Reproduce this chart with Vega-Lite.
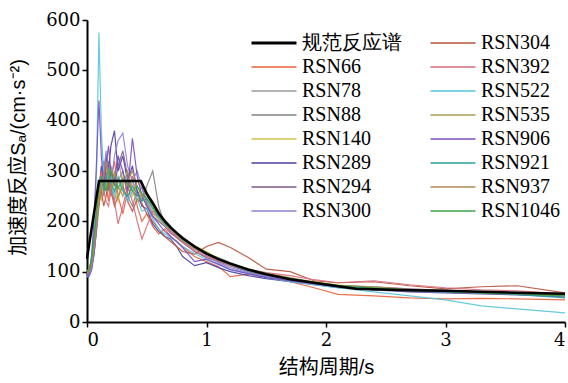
{
"$schema":"https://vega.github.io/schema/vega-lite/v6.json",
"autosize":"none",
"width":478,"height":302,
"padding":{"left":87,"top":20,"right":3,"bottom":61},
"background":"white",
"config":{"view":{"stroke":null},"axis":{"grid":false,"domainColor":"black","domainWidth":2,"tickColor":"black","tickWidth":1.5,"tickSize":5,"labelColor":"black","labelFont":"DejaVu Serif","labelFontSize":18,"titleFont":"Liberation Sans, Noto Sans CJK SC","titleFontSize":20,"titleFontWeight":"normal","titleColor":"black"}},
"data":{"values":[
{"s":"规范反应谱","T":0,"v":126},{"s":"规范反应谱","T":0.1,"v":280},{"s":"规范反应谱","T":0.45,"v":280},{"s":"规范反应谱","T":0.5,"v":255},{"s":"规范反应谱","T":0.55,"v":236},{"s":"规范反应谱","T":0.6,"v":216},{"s":"规范反应谱","T":0.65,"v":201},{"s":"规范反应谱","T":0.7,"v":188},{"s":"规范反应谱","T":0.75,"v":177},{"s":"规范反应谱","T":0.8,"v":167},{"s":"规范反应谱","T":0.9,"v":150},{"s":"规范反应谱","T":1.0,"v":136},{"s":"规范反应谱","T":1.1,"v":125},{"s":"规范反应谱","T":1.2,"v":116},{"s":"规范反应谱","T":1.35,"v":104},{"s":"规范反应谱","T":1.5,"v":95},{"s":"规范反应谱","T":1.7,"v":85},{"s":"规范反应谱","T":1.9,"v":78},{"s":"规范反应谱","T":2.1,"v":71},{"s":"规范反应谱","T":2.25,"v":66},{"s":"规范反应谱","T":2.7,"v":63},{"s":"规范反应谱","T":3.0,"v":62},{"s":"规范反应谱","T":3.3,"v":60},{"s":"规范反应谱","T":3.6,"v":58},{"s":"规范反应谱","T":4.0,"v":56},

{"s":"RSN66","T":0,"v":95},{"s":"RSN66","T":0.02,"v":100},{"s":"RSN66","T":0.04,"v":118},{"s":"RSN66","T":0.06,"v":150},{"s":"RSN66","T":0.08,"v":200},{"s":"RSN66","T":0.1,"v":235},{"s":"RSN66","T":0.12,"v":260},{"s":"RSN66","T":0.14,"v":300},{"s":"RSN66","T":0.16,"v":270},{"s":"RSN66","T":0.18,"v":240},{"s":"RSN66","T":0.2,"v":285},{"s":"RSN66","T":0.23,"v":320},{"s":"RSN66","T":0.26,"v":250},{"s":"RSN66","T":0.3,"v":215},{"s":"RSN66","T":0.34,"v":260},{"s":"RSN66","T":0.38,"v":290},{"s":"RSN66","T":0.42,"v":230},{"s":"RSN66","T":0.46,"v":200},{"s":"RSN66","T":0.5,"v":215},{"s":"RSN66","T":0.55,"v":190},{"s":"RSN66","T":0.6,"v":175},{"s":"RSN66","T":0.65,"v":185},{"s":"RSN66","T":0.7,"v":170},{"s":"RSN66","T":0.75,"v":160},{"s":"RSN66","T":0.8,"v":150},{"s":"RSN66","T":0.9,"v":130},{"s":"RSN66","T":1.0,"v":120},{"s":"RSN66","T":1.1,"v":110},{"s":"RSN66","T":1.2,"v":90},{"s":"RSN66","T":1.35,"v":95},{"s":"RSN66","T":1.5,"v":88},{"s":"RSN66","T":1.7,"v":80},{"s":"RSN66","T":1.9,"v":68},{"s":"RSN66","T":2.1,"v":55},{"s":"RSN66","T":2.4,"v":52},{"s":"RSN66","T":2.7,"v":48},{"s":"RSN66","T":3.0,"v":46},{"s":"RSN66","T":3.3,"v":47},{"s":"RSN66","T":3.6,"v":46},{"s":"RSN66","T":4.0,"v":44},

{"s":"RSN78","T":0,"v":100},{"s":"RSN78","T":0.02,"v":104},{"s":"RSN78","T":0.04,"v":125},{"s":"RSN78","T":0.06,"v":165},{"s":"RSN78","T":0.08,"v":230},{"s":"RSN78","T":0.1,"v":270},{"s":"RSN78","T":0.12,"v":300},{"s":"RSN78","T":0.14,"v":260},{"s":"RSN78","T":0.16,"v":310},{"s":"RSN78","T":0.18,"v":280},{"s":"RSN78","T":0.2,"v":250},{"s":"RSN78","T":0.23,"v":290},{"s":"RSN78","T":0.26,"v":330},{"s":"RSN78","T":0.3,"v":270},{"s":"RSN78","T":0.34,"v":240},{"s":"RSN78","T":0.38,"v":280},{"s":"RSN78","T":0.42,"v":260},{"s":"RSN78","T":0.46,"v":245},{"s":"RSN78","T":0.5,"v":250},{"s":"RSN78","T":0.55,"v":230},{"s":"RSN78","T":0.6,"v":205},{"s":"RSN78","T":0.65,"v":200},{"s":"RSN78","T":0.7,"v":190},{"s":"RSN78","T":0.75,"v":175},{"s":"RSN78","T":0.8,"v":160},{"s":"RSN78","T":0.9,"v":148},{"s":"RSN78","T":1.0,"v":135},{"s":"RSN78","T":1.1,"v":128},{"s":"RSN78","T":1.2,"v":118},{"s":"RSN78","T":1.35,"v":105},{"s":"RSN78","T":1.5,"v":96},{"s":"RSN78","T":1.7,"v":87},{"s":"RSN78","T":1.9,"v":78},{"s":"RSN78","T":2.1,"v":72},{"s":"RSN78","T":2.4,"v":66},{"s":"RSN78","T":2.7,"v":62},{"s":"RSN78","T":3.0,"v":60},{"s":"RSN78","T":3.3,"v":58},{"s":"RSN78","T":3.6,"v":55},{"s":"RSN78","T":4.0,"v":52},

{"s":"RSN88","T":0,"v":92},{"s":"RSN88","T":0.02,"v":98},{"s":"RSN88","T":0.04,"v":112},{"s":"RSN88","T":0.06,"v":140},{"s":"RSN88","T":0.08,"v":180},{"s":"RSN88","T":0.1,"v":230},{"s":"RSN88","T":0.12,"v":270},{"s":"RSN88","T":0.14,"v":250},{"s":"RSN88","T":0.16,"v":290},{"s":"RSN88","T":0.18,"v":320},{"s":"RSN88","T":0.2,"v":270},{"s":"RSN88","T":0.23,"v":240},{"s":"RSN88","T":0.26,"v":280},{"s":"RSN88","T":0.3,"v":300},{"s":"RSN88","T":0.34,"v":250},{"s":"RSN88","T":0.38,"v":230},{"s":"RSN88","T":0.42,"v":260},{"s":"RSN88","T":0.46,"v":240},{"s":"RSN88","T":0.5,"v":270},{"s":"RSN88","T":0.55,"v":300},{"s":"RSN88","T":0.6,"v":230},{"s":"RSN88","T":0.65,"v":195},{"s":"RSN88","T":0.7,"v":180},{"s":"RSN88","T":0.75,"v":170},{"s":"RSN88","T":0.8,"v":162},{"s":"RSN88","T":0.9,"v":145},{"s":"RSN88","T":1.0,"v":138},{"s":"RSN88","T":1.1,"v":126},{"s":"RSN88","T":1.2,"v":112},{"s":"RSN88","T":1.35,"v":102},{"s":"RSN88","T":1.5,"v":92},{"s":"RSN88","T":1.7,"v":84},{"s":"RSN88","T":1.9,"v":76},{"s":"RSN88","T":2.1,"v":70},{"s":"RSN88","T":2.4,"v":64},{"s":"RSN88","T":2.7,"v":62},{"s":"RSN88","T":3.0,"v":61},{"s":"RSN88","T":3.3,"v":59},{"s":"RSN88","T":3.6,"v":56},{"s":"RSN88","T":4.0,"v":50},

{"s":"RSN140","T":0,"v":98},{"s":"RSN140","T":0.02,"v":105},{"s":"RSN140","T":0.04,"v":130},{"s":"RSN140","T":0.06,"v":180},{"s":"RSN140","T":0.08,"v":220},{"s":"RSN140","T":0.1,"v":260},{"s":"RSN140","T":0.12,"v":240},{"s":"RSN140","T":0.14,"v":290},{"s":"RSN140","T":0.16,"v":310},{"s":"RSN140","T":0.18,"v":270},{"s":"RSN140","T":0.2,"v":300},{"s":"RSN140","T":0.23,"v":260},{"s":"RSN140","T":0.26,"v":240},{"s":"RSN140","T":0.3,"v":290},{"s":"RSN140","T":0.34,"v":270},{"s":"RSN140","T":0.38,"v":250},{"s":"RSN140","T":0.42,"v":280},{"s":"RSN140","T":0.46,"v":265},{"s":"RSN140","T":0.5,"v":240},{"s":"RSN140","T":0.55,"v":220},{"s":"RSN140","T":0.6,"v":215},{"s":"RSN140","T":0.65,"v":195},{"s":"RSN140","T":0.7,"v":185},{"s":"RSN140","T":0.75,"v":172},{"s":"RSN140","T":0.8,"v":165},{"s":"RSN140","T":0.9,"v":152},{"s":"RSN140","T":1.0,"v":140},{"s":"RSN140","T":1.1,"v":126},{"s":"RSN140","T":1.2,"v":114},{"s":"RSN140","T":1.35,"v":104},{"s":"RSN140","T":1.5,"v":95},{"s":"RSN140","T":1.7,"v":86},{"s":"RSN140","T":1.9,"v":80},{"s":"RSN140","T":2.1,"v":74},{"s":"RSN140","T":2.4,"v":68},{"s":"RSN140","T":2.7,"v":64},{"s":"RSN140","T":3.0,"v":62},{"s":"RSN140","T":3.3,"v":60},{"s":"RSN140","T":3.6,"v":57},{"s":"RSN140","T":4.0,"v":53},

{"s":"RSN289","T":0,"v":88},{"s":"RSN289","T":0.02,"v":92},{"s":"RSN289","T":0.04,"v":105},{"s":"RSN289","T":0.06,"v":135},{"s":"RSN289","T":0.08,"v":190},{"s":"RSN289","T":0.1,"v":260},{"s":"RSN289","T":0.12,"v":310},{"s":"RSN289","T":0.14,"v":280},{"s":"RSN289","T":0.16,"v":330},{"s":"RSN289","T":0.18,"v":300},{"s":"RSN289","T":0.2,"v":350},{"s":"RSN289","T":0.23,"v":380},{"s":"RSN289","T":0.26,"v":300},{"s":"RSN289","T":0.3,"v":330},{"s":"RSN289","T":0.34,"v":280},{"s":"RSN289","T":0.38,"v":310},{"s":"RSN289","T":0.42,"v":260},{"s":"RSN289","T":0.46,"v":230},{"s":"RSN289","T":0.5,"v":225},{"s":"RSN289","T":0.55,"v":195},{"s":"RSN289","T":0.6,"v":180},{"s":"RSN289","T":0.65,"v":170},{"s":"RSN289","T":0.7,"v":165},{"s":"RSN289","T":0.75,"v":150},{"s":"RSN289","T":0.8,"v":130},{"s":"RSN289","T":0.9,"v":112},{"s":"RSN289","T":1.0,"v":118},{"s":"RSN289","T":1.1,"v":108},{"s":"RSN289","T":1.2,"v":100},{"s":"RSN289","T":1.35,"v":92},{"s":"RSN289","T":1.5,"v":86},{"s":"RSN289","T":1.7,"v":80},{"s":"RSN289","T":1.9,"v":74},{"s":"RSN289","T":2.1,"v":68},{"s":"RSN289","T":2.4,"v":64},{"s":"RSN289","T":2.7,"v":60},{"s":"RSN289","T":3.0,"v":58},{"s":"RSN289","T":3.3,"v":56},{"s":"RSN289","T":3.6,"v":54},{"s":"RSN289","T":4.0,"v":50},

{"s":"RSN294","T":0,"v":96},{"s":"RSN294","T":0.02,"v":100},{"s":"RSN294","T":0.04,"v":115},{"s":"RSN294","T":0.06,"v":150},{"s":"RSN294","T":0.08,"v":210},{"s":"RSN294","T":0.1,"v":250},{"s":"RSN294","T":0.12,"v":280},{"s":"RSN294","T":0.14,"v":320},{"s":"RSN294","T":0.16,"v":290},{"s":"RSN294","T":0.18,"v":260},{"s":"RSN294","T":0.2,"v":300},{"s":"RSN294","T":0.23,"v":270},{"s":"RSN294","T":0.26,"v":310},{"s":"RSN294","T":0.3,"v":340},{"s":"RSN294","T":0.34,"v":290},{"s":"RSN294","T":0.38,"v":260},{"s":"RSN294","T":0.42,"v":250},{"s":"RSN294","T":0.46,"v":270},{"s":"RSN294","T":0.5,"v":235},{"s":"RSN294","T":0.55,"v":210},{"s":"RSN294","T":0.6,"v":200},{"s":"RSN294","T":0.65,"v":190},{"s":"RSN294","T":0.7,"v":176},{"s":"RSN294","T":0.75,"v":168},{"s":"RSN294","T":0.8,"v":158},{"s":"RSN294","T":0.9,"v":140},{"s":"RSN294","T":1.0,"v":128},{"s":"RSN294","T":1.1,"v":120},{"s":"RSN294","T":1.2,"v":112},{"s":"RSN294","T":1.35,"v":100},{"s":"RSN294","T":1.5,"v":90},{"s":"RSN294","T":1.7,"v":82},{"s":"RSN294","T":1.9,"v":76},{"s":"RSN294","T":2.1,"v":72},{"s":"RSN294","T":2.4,"v":70},{"s":"RSN294","T":2.7,"v":66},{"s":"RSN294","T":3.0,"v":63},{"s":"RSN294","T":3.3,"v":60},{"s":"RSN294","T":3.6,"v":58},{"s":"RSN294","T":4.0,"v":55},

{"s":"RSN300","T":0,"v":90},{"s":"RSN300","T":0.02,"v":95},{"s":"RSN300","T":0.04,"v":110},{"s":"RSN300","T":0.06,"v":140},{"s":"RSN300","T":0.08,"v":185},{"s":"RSN300","T":0.1,"v":240},{"s":"RSN300","T":0.12,"v":275},{"s":"RSN300","T":0.14,"v":300},{"s":"RSN300","T":0.16,"v":340},{"s":"RSN300","T":0.18,"v":300},{"s":"RSN300","T":0.2,"v":270},{"s":"RSN300","T":0.23,"v":330},{"s":"RSN300","T":0.26,"v":360},{"s":"RSN300","T":0.3,"v":375},{"s":"RSN300","T":0.34,"v":310},{"s":"RSN300","T":0.38,"v":280},{"s":"RSN300","T":0.42,"v":300},{"s":"RSN300","T":0.46,"v":265},{"s":"RSN300","T":0.5,"v":240},{"s":"RSN300","T":0.55,"v":215},{"s":"RSN300","T":0.6,"v":210},{"s":"RSN300","T":0.65,"v":198},{"s":"RSN300","T":0.7,"v":182},{"s":"RSN300","T":0.75,"v":170},{"s":"RSN300","T":0.8,"v":160},{"s":"RSN300","T":0.9,"v":146},{"s":"RSN300","T":1.0,"v":132},{"s":"RSN300","T":1.1,"v":118},{"s":"RSN300","T":1.2,"v":108},{"s":"RSN300","T":1.35,"v":98},{"s":"RSN300","T":1.5,"v":90},{"s":"RSN300","T":1.7,"v":84},{"s":"RSN300","T":1.9,"v":77},{"s":"RSN300","T":2.1,"v":70},{"s":"RSN300","T":2.4,"v":65},{"s":"RSN300","T":2.7,"v":61},{"s":"RSN300","T":3.0,"v":59},{"s":"RSN300","T":3.3,"v":57},{"s":"RSN300","T":3.6,"v":55},{"s":"RSN300","T":4.0,"v":51},

{"s":"RSN304","T":0,"v":100},{"s":"RSN304","T":0.02,"v":104},{"s":"RSN304","T":0.04,"v":120},{"s":"RSN304","T":0.06,"v":155},{"s":"RSN304","T":0.08,"v":200},{"s":"RSN304","T":0.1,"v":240},{"s":"RSN304","T":0.12,"v":260},{"s":"RSN304","T":0.14,"v":230},{"s":"RSN304","T":0.16,"v":250},{"s":"RSN304","T":0.18,"v":280},{"s":"RSN304","T":0.2,"v":260},{"s":"RSN304","T":0.23,"v":230},{"s":"RSN304","T":0.26,"v":250},{"s":"RSN304","T":0.3,"v":270},{"s":"RSN304","T":0.34,"v":240},{"s":"RSN304","T":0.38,"v":220},{"s":"RSN304","T":0.42,"v":245},{"s":"RSN304","T":0.46,"v":235},{"s":"RSN304","T":0.5,"v":215},{"s":"RSN304","T":0.55,"v":200},{"s":"RSN304","T":0.6,"v":185},{"s":"RSN304","T":0.65,"v":170},{"s":"RSN304","T":0.7,"v":160},{"s":"RSN304","T":0.75,"v":150},{"s":"RSN304","T":0.8,"v":140},{"s":"RSN304","T":0.9,"v":135},{"s":"RSN304","T":1.0,"v":150},{"s":"RSN304","T":1.1,"v":158},{"s":"RSN304","T":1.2,"v":148},{"s":"RSN304","T":1.35,"v":128},{"s":"RSN304","T":1.5,"v":105},{"s":"RSN304","T":1.7,"v":100},{"s":"RSN304","T":1.9,"v":82},{"s":"RSN304","T":2.1,"v":78},{"s":"RSN304","T":2.4,"v":80},{"s":"RSN304","T":2.7,"v":72},{"s":"RSN304","T":3.0,"v":66},{"s":"RSN304","T":3.3,"v":70},{"s":"RSN304","T":3.6,"v":72},{"s":"RSN304","T":4.0,"v":58},

{"s":"RSN392","T":0,"v":94},{"s":"RSN392","T":0.02,"v":98},{"s":"RSN392","T":0.04,"v":118},{"s":"RSN392","T":0.06,"v":160},{"s":"RSN392","T":0.08,"v":215},{"s":"RSN392","T":0.1,"v":270},{"s":"RSN392","T":0.12,"v":300},{"s":"RSN392","T":0.14,"v":260},{"s":"RSN392","T":0.16,"v":240},{"s":"RSN392","T":0.18,"v":230},{"s":"RSN392","T":0.2,"v":260},{"s":"RSN392","T":0.23,"v":240},{"s":"RSN392","T":0.26,"v":195},{"s":"RSN392","T":0.3,"v":230},{"s":"RSN392","T":0.34,"v":270},{"s":"RSN392","T":0.38,"v":240},{"s":"RSN392","T":0.42,"v":200},{"s":"RSN392","T":0.46,"v":165},{"s":"RSN392","T":0.5,"v":190},{"s":"RSN392","T":0.55,"v":220},{"s":"RSN392","T":0.6,"v":210},{"s":"RSN392","T":0.65,"v":195},{"s":"RSN392","T":0.7,"v":180},{"s":"RSN392","T":0.75,"v":168},{"s":"RSN392","T":0.8,"v":158},{"s":"RSN392","T":0.9,"v":142},{"s":"RSN392","T":1.0,"v":130},{"s":"RSN392","T":1.1,"v":122},{"s":"RSN392","T":1.2,"v":112},{"s":"RSN392","T":1.35,"v":104},{"s":"RSN392","T":1.5,"v":98},{"s":"RSN392","T":1.7,"v":92},{"s":"RSN392","T":1.9,"v":84},{"s":"RSN392","T":2.1,"v":78},{"s":"RSN392","T":2.4,"v":82},{"s":"RSN392","T":2.7,"v":74},{"s":"RSN392","T":3.0,"v":68},{"s":"RSN392","T":3.3,"v":64},{"s":"RSN392","T":3.6,"v":62},{"s":"RSN392","T":4.0,"v":56},

{"s":"RSN522","T":0,"v":90},{"s":"RSN522","T":0.02,"v":100},{"s":"RSN522","T":0.04,"v":140},{"s":"RSN522","T":0.06,"v":200},{"s":"RSN522","T":0.08,"v":300},{"s":"RSN522","T":0.1,"v":575},{"s":"RSN522","T":0.12,"v":380},{"s":"RSN522","T":0.14,"v":290},{"s":"RSN522","T":0.16,"v":260},{"s":"RSN522","T":0.18,"v":300},{"s":"RSN522","T":0.2,"v":280},{"s":"RSN522","T":0.23,"v":250},{"s":"RSN522","T":0.26,"v":290},{"s":"RSN522","T":0.3,"v":265},{"s":"RSN522","T":0.34,"v":240},{"s":"RSN522","T":0.38,"v":260},{"s":"RSN522","T":0.42,"v":245},{"s":"RSN522","T":0.46,"v":220},{"s":"RSN522","T":0.5,"v":225},{"s":"RSN522","T":0.55,"v":205},{"s":"RSN522","T":0.6,"v":185},{"s":"RSN522","T":0.65,"v":175},{"s":"RSN522","T":0.7,"v":168},{"s":"RSN522","T":0.75,"v":160},{"s":"RSN522","T":0.8,"v":150},{"s":"RSN522","T":0.9,"v":136},{"s":"RSN522","T":1.0,"v":124},{"s":"RSN522","T":1.1,"v":114},{"s":"RSN522","T":1.2,"v":104},{"s":"RSN522","T":1.35,"v":96},{"s":"RSN522","T":1.5,"v":88},{"s":"RSN522","T":1.7,"v":80},{"s":"RSN522","T":1.9,"v":74},{"s":"RSN522","T":2.1,"v":68},{"s":"RSN522","T":2.4,"v":60},{"s":"RSN522","T":2.7,"v":52},{"s":"RSN522","T":3.0,"v":44},{"s":"RSN522","T":3.3,"v":32},{"s":"RSN522","T":3.6,"v":26},{"s":"RSN522","T":4.0,"v":18},

{"s":"RSN535","T":0,"v":102},{"s":"RSN535","T":0.02,"v":106},{"s":"RSN535","T":0.04,"v":125},{"s":"RSN535","T":0.06,"v":160},{"s":"RSN535","T":0.08,"v":205},{"s":"RSN535","T":0.1,"v":250},{"s":"RSN535","T":0.12,"v":275},{"s":"RSN535","T":0.14,"v":300},{"s":"RSN535","T":0.16,"v":260},{"s":"RSN535","T":0.18,"v":290},{"s":"RSN535","T":0.2,"v":310},{"s":"RSN535","T":0.23,"v":280},{"s":"RSN535","T":0.26,"v":250},{"s":"RSN535","T":0.3,"v":270},{"s":"RSN535","T":0.34,"v":300},{"s":"RSN535","T":0.38,"v":260},{"s":"RSN535","T":0.42,"v":240},{"s":"RSN535","T":0.46,"v":255},{"s":"RSN535","T":0.5,"v":230},{"s":"RSN535","T":0.55,"v":215},{"s":"RSN535","T":0.6,"v":205},{"s":"RSN535","T":0.65,"v":192},{"s":"RSN535","T":0.7,"v":185},{"s":"RSN535","T":0.75,"v":176},{"s":"RSN535","T":0.8,"v":164},{"s":"RSN535","T":0.9,"v":150},{"s":"RSN535","T":1.0,"v":138},{"s":"RSN535","T":1.1,"v":126},{"s":"RSN535","T":1.2,"v":116},{"s":"RSN535","T":1.35,"v":106},{"s":"RSN535","T":1.5,"v":97},{"s":"RSN535","T":1.7,"v":88},{"s":"RSN535","T":1.9,"v":80},{"s":"RSN535","T":2.1,"v":73},{"s":"RSN535","T":2.4,"v":67},{"s":"RSN535","T":2.7,"v":63},{"s":"RSN535","T":3.0,"v":61},{"s":"RSN535","T":3.3,"v":58},{"s":"RSN535","T":3.6,"v":56},{"s":"RSN535","T":4.0,"v":52},

{"s":"RSN906","T":0,"v":92},{"s":"RSN906","T":0.02,"v":98},{"s":"RSN906","T":0.04,"v":130},{"s":"RSN906","T":0.06,"v":210},{"s":"RSN906","T":0.08,"v":320},{"s":"RSN906","T":0.1,"v":440},{"s":"RSN906","T":0.12,"v":330},{"s":"RSN906","T":0.14,"v":270},{"s":"RSN906","T":0.16,"v":310},{"s":"RSN906","T":0.18,"v":350},{"s":"RSN906","T":0.2,"v":300},{"s":"RSN906","T":0.23,"v":280},{"s":"RSN906","T":0.26,"v":330},{"s":"RSN906","T":0.3,"v":300},{"s":"RSN906","T":0.34,"v":260},{"s":"RSN906","T":0.38,"v":365},{"s":"RSN906","T":0.42,"v":290},{"s":"RSN906","T":0.46,"v":250},{"s":"RSN906","T":0.5,"v":230},{"s":"RSN906","T":0.55,"v":210},{"s":"RSN906","T":0.6,"v":195},{"s":"RSN906","T":0.65,"v":180},{"s":"RSN906","T":0.7,"v":170},{"s":"RSN906","T":0.75,"v":160},{"s":"RSN906","T":0.8,"v":148},{"s":"RSN906","T":0.9,"v":120},{"s":"RSN906","T":1.0,"v":125},{"s":"RSN906","T":1.1,"v":115},{"s":"RSN906","T":1.2,"v":104},{"s":"RSN906","T":1.35,"v":96},{"s":"RSN906","T":1.5,"v":88},{"s":"RSN906","T":1.7,"v":82},{"s":"RSN906","T":1.9,"v":76},{"s":"RSN906","T":2.1,"v":70},{"s":"RSN906","T":2.4,"v":66},{"s":"RSN906","T":2.7,"v":62},{"s":"RSN906","T":3.0,"v":60},{"s":"RSN906","T":3.3,"v":58},{"s":"RSN906","T":3.6,"v":56},{"s":"RSN906","T":4.0,"v":54},

{"s":"RSN921","T":0,"v":98},{"s":"RSN921","T":0.02,"v":102},{"s":"RSN921","T":0.04,"v":120},{"s":"RSN921","T":0.06,"v":165},{"s":"RSN921","T":0.08,"v":225},{"s":"RSN921","T":0.1,"v":270},{"s":"RSN921","T":0.12,"v":290},{"s":"RSN921","T":0.14,"v":260},{"s":"RSN921","T":0.16,"v":285},{"s":"RSN921","T":0.18,"v":305},{"s":"RSN921","T":0.2,"v":275},{"s":"RSN921","T":0.23,"v":260},{"s":"RSN921","T":0.26,"v":285},{"s":"RSN921","T":0.3,"v":260},{"s":"RSN921","T":0.34,"v":250},{"s":"RSN921","T":0.38,"v":270},{"s":"RSN921","T":0.42,"v":255},{"s":"RSN921","T":0.46,"v":240},{"s":"RSN921","T":0.5,"v":245},{"s":"RSN921","T":0.55,"v":225},{"s":"RSN921","T":0.6,"v":210},{"s":"RSN921","T":0.65,"v":195},{"s":"RSN921","T":0.7,"v":185},{"s":"RSN921","T":0.75,"v":174},{"s":"RSN921","T":0.8,"v":164},{"s":"RSN921","T":0.9,"v":148},{"s":"RSN921","T":1.0,"v":136},{"s":"RSN921","T":1.1,"v":124},{"s":"RSN921","T":1.2,"v":114},{"s":"RSN921","T":1.35,"v":102},{"s":"RSN921","T":1.5,"v":94},{"s":"RSN921","T":1.7,"v":86},{"s":"RSN921","T":1.9,"v":78},{"s":"RSN921","T":2.1,"v":72},{"s":"RSN921","T":2.4,"v":66},{"s":"RSN921","T":2.7,"v":62},{"s":"RSN921","T":3.0,"v":60},{"s":"RSN921","T":3.3,"v":58},{"s":"RSN921","T":3.6,"v":55},{"s":"RSN921","T":4.0,"v":48},

{"s":"RSN937","T":0,"v":97},{"s":"RSN937","T":0.02,"v":100},{"s":"RSN937","T":0.04,"v":116},{"s":"RSN937","T":0.06,"v":150},{"s":"RSN937","T":0.08,"v":195},{"s":"RSN937","T":0.1,"v":235},{"s":"RSN937","T":0.12,"v":265},{"s":"RSN937","T":0.14,"v":290},{"s":"RSN937","T":0.16,"v":320},{"s":"RSN937","T":0.18,"v":290},{"s":"RSN937","T":0.2,"v":260},{"s":"RSN937","T":0.23,"v":300},{"s":"RSN937","T":0.26,"v":270},{"s":"RSN937","T":0.3,"v":250},{"s":"RSN937","T":0.34,"v":280},{"s":"RSN937","T":0.38,"v":300},{"s":"RSN937","T":0.42,"v":270},{"s":"RSN937","T":0.46,"v":250},{"s":"RSN937","T":0.5,"v":255},{"s":"RSN937","T":0.55,"v":240},{"s":"RSN937","T":0.6,"v":220},{"s":"RSN937","T":0.65,"v":200},{"s":"RSN937","T":0.7,"v":186},{"s":"RSN937","T":0.75,"v":172},{"s":"RSN937","T":0.8,"v":160},{"s":"RSN937","T":0.9,"v":146},{"s":"RSN937","T":1.0,"v":134},{"s":"RSN937","T":1.1,"v":124},{"s":"RSN937","T":1.2,"v":114},{"s":"RSN937","T":1.35,"v":104},{"s":"RSN937","T":1.5,"v":94},{"s":"RSN937","T":1.7,"v":86},{"s":"RSN937","T":1.9,"v":78},{"s":"RSN937","T":2.1,"v":73},{"s":"RSN937","T":2.4,"v":70},{"s":"RSN937","T":2.7,"v":65},{"s":"RSN937","T":3.0,"v":62},{"s":"RSN937","T":3.3,"v":59},{"s":"RSN937","T":3.6,"v":57},{"s":"RSN937","T":4.0,"v":54},

{"s":"RSN1046","T":0,"v":100},{"s":"RSN1046","T":0.02,"v":105},{"s":"RSN1046","T":0.04,"v":128},{"s":"RSN1046","T":0.06,"v":170},{"s":"RSN1046","T":0.08,"v":225},{"s":"RSN1046","T":0.1,"v":265},{"s":"RSN1046","T":0.12,"v":285},{"s":"RSN1046","T":0.14,"v":275},{"s":"RSN1046","T":0.16,"v":260},{"s":"RSN1046","T":0.18,"v":285},{"s":"RSN1046","T":0.2,"v":300},{"s":"RSN1046","T":0.23,"v":275},{"s":"RSN1046","T":0.26,"v":265},{"s":"RSN1046","T":0.3,"v":285},{"s":"RSN1046","T":0.34,"v":275},{"s":"RSN1046","T":0.38,"v":260},{"s":"RSN1046","T":0.42,"v":270},{"s":"RSN1046","T":0.46,"v":255},{"s":"RSN1046","T":0.5,"v":245},{"s":"RSN1046","T":0.55,"v":228},{"s":"RSN1046","T":0.6,"v":212},{"s":"RSN1046","T":0.65,"v":198},{"s":"RSN1046","T":0.7,"v":188},{"s":"RSN1046","T":0.75,"v":176},{"s":"RSN1046","T":0.8,"v":166},{"s":"RSN1046","T":0.9,"v":150},{"s":"RSN1046","T":1.0,"v":137},{"s":"RSN1046","T":1.1,"v":125},{"s":"RSN1046","T":1.2,"v":115},{"s":"RSN1046","T":1.35,"v":104},{"s":"RSN1046","T":1.5,"v":95},{"s":"RSN1046","T":1.7,"v":86},{"s":"RSN1046","T":1.9,"v":79},{"s":"RSN1046","T":2.1,"v":73},{"s":"RSN1046","T":2.4,"v":68},{"s":"RSN1046","T":2.7,"v":64},{"s":"RSN1046","T":3.0,"v":61},{"s":"RSN1046","T":3.3,"v":58},{"s":"RSN1046","T":3.6,"v":56},{"s":"RSN1046","T":4.0,"v":52}
]},
"encoding":{
"x":{"field":"T","type":"quantitative","scale":{"domain":[0,4],"nice":false,"zero":true},"axis":{"title":"结构周期/s","values":[0,1,2,3,4],"format":"d","labelPadding":4,"titlePadding":8}},
"y":{"field":"v","type":"quantitative","scale":{"domain":[0,600],"nice":false},"axis":{"title":"加速度反应Sₐ/(cm·s⁻²)","values":[0,100,200,300,400,500,600],"labelPadding":2,"titleX":-69,"titleY":137,"titleBaseline":"middle","titleAlign":"center"}},
"color":{"field":"s","type":"nominal","scale":{
"domain":["规范反应谱","RSN66","RSN78","RSN88","RSN140","RSN289","RSN294","RSN300","RSN304","RSN392","RSN522","RSN535","RSN906","RSN921","RSN937","RSN1046"],
"range":["#000000","#e8623c","#9a9a9a","#808080","#d6c24a","#4a3e9c","#7d5a8c","#8d80d6","#b8503a","#d96a7c","#55c5dc","#a69d52","#7a4cc2","#2a9d9f","#b08a4e","#3ea34a"]},
"legend":{"title":null,"orient":"none","legendX":177,"legendY":13,"columns":2,"columnPadding":25,"rowPadding":4,"padding":0,"symbolType":"M-2.25,0H2.25","symbolSize":400,"symbolStrokeWidth":2,"labelFont":"serif","labelFontSize":20,"labelColor":"black","labelOffset":18,"labelLimit":200,"encode":{"symbols":{"update":{"strokeWidth":{"signal":"datum.value === '规范反应谱' ? 3 : 1.5"}}}}}}
},
"layer":[
{"transform":[{"filter":"datum.s !== '规范反应谱'"}],"mark":{"type":"line","strokeWidth":1.2,"opacity":0.9}},
{"transform":[{"filter":"datum.s === '规范反应谱'"}],"mark":{"type":"line","strokeWidth":2.5}}
]
}
